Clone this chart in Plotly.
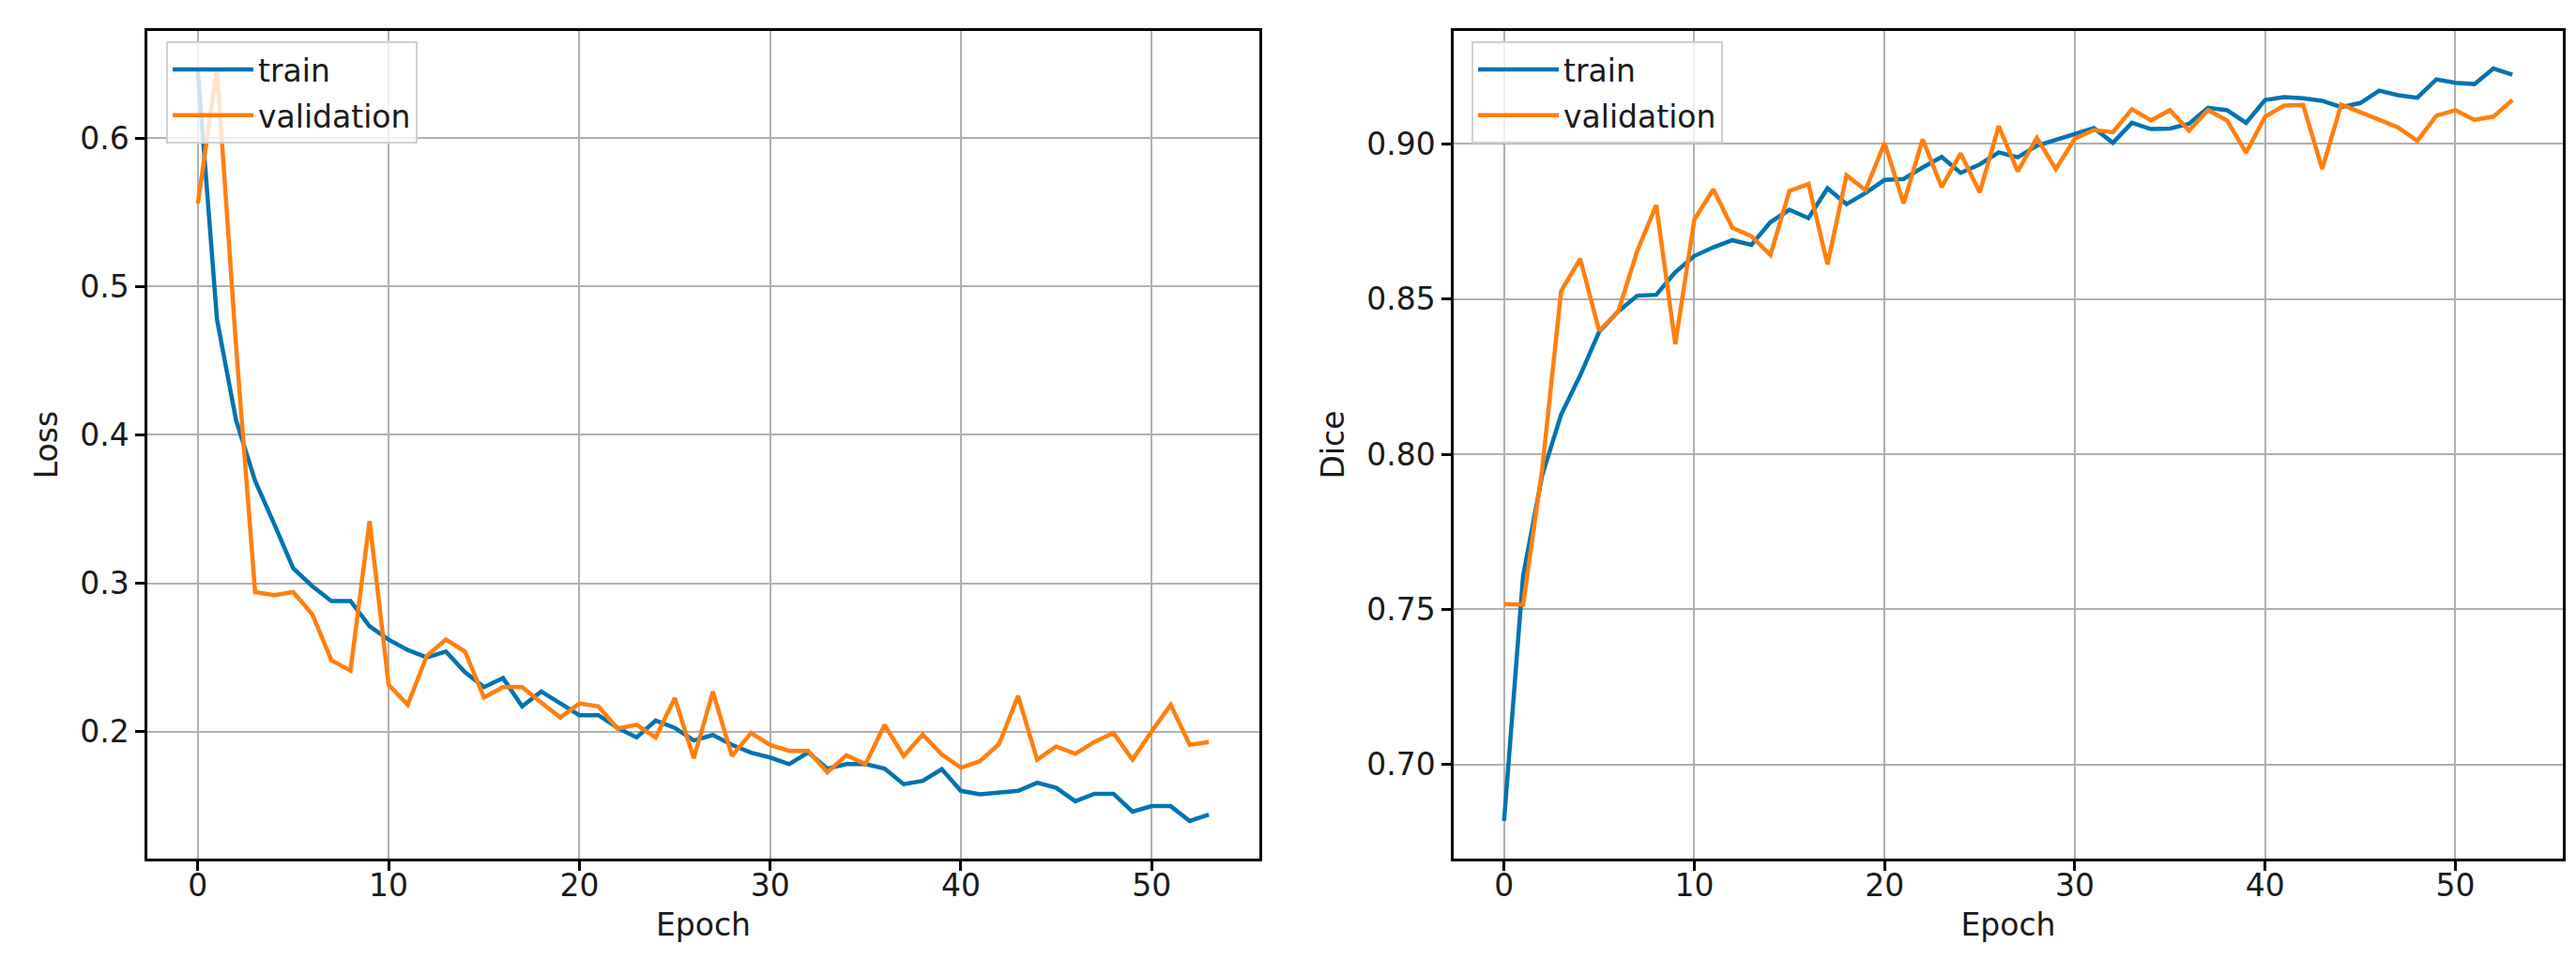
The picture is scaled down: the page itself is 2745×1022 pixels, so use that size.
import plotly.graph_objects as go

epochs = list(range(54))

train_loss = [0.645, 0.478, 0.41, 0.369, 0.340, 0.310, 0.298, 0.288, 0.288, 0.271,
              0.262, 0.255, 0.250, 0.254, 0.240, 0.230, 0.236, 0.217, 0.227, 0.219,
              0.211, 0.211, 0.2025, 0.196, 0.2074, 0.2025, 0.194, 0.1977, 0.191, 0.1857,
              0.1825, 0.178, 0.186, 0.175, 0.178, 0.178, 0.175, 0.1645, 0.1667, 0.1746,
              0.160, 0.1577, 0.1587, 0.160, 0.1655, 0.162, 0.153, 0.158, 0.158, 0.146,
              0.1497, 0.1497, 0.1397, 0.144]

val_loss = [0.556, 0.647, 0.46, 0.294, 0.292, 0.294, 0.279, 0.248, 0.241, 0.342,
            0.2315, 0.218, 0.251, 0.262, 0.254, 0.223, 0.230, 0.230, 0.2195, 0.2095,
            0.219, 0.217, 0.202, 0.2046, 0.196, 0.2226, 0.182, 0.2268, 0.1835, 0.199,
            0.191, 0.187, 0.187, 0.1725, 0.184, 0.178, 0.2045, 0.1835, 0.198, 0.1845,
            0.1757, 0.180, 0.1915, 0.224, 0.181, 0.190, 0.185, 0.193, 0.199, 0.181,
            0.200, 0.218, 0.191, 0.193]

train_dice = [0.6818, 0.7608, 0.7931, 0.8128, 0.8254, 0.8395, 0.846, 0.8511, 0.8514, 0.8587,
              0.8639, 0.8667, 0.869, 0.8675, 0.8748, 0.8788, 0.8761, 0.8857, 0.8806, 0.8842,
              0.8884, 0.8887, 0.8924, 0.8958, 0.8907, 0.8934, 0.8973, 0.8957, 0.8994, 0.9014,
              0.9032, 0.9051, 0.9004, 0.9068, 0.9048, 0.905, 0.9065, 0.9117, 0.9109, 0.9068,
              0.9142, 0.9151, 0.9147, 0.9139, 0.9119, 0.9132, 0.9172, 0.9157, 0.9149, 0.9208,
              0.9197, 0.9193, 0.9243, 0.9223]

val_dice = [0.7517, 0.7515, 0.795, 0.8526, 0.863, 0.8398, 0.846, 0.8655, 0.8803, 0.8355,
            0.8756, 0.8854, 0.873, 0.8703, 0.8642, 0.8849, 0.8871, 0.8612, 0.8899, 0.8851,
            0.9003, 0.8808, 0.9015, 0.8861, 0.897, 0.8844, 0.9058, 0.8912, 0.902, 0.8919,
            0.9017, 0.9045, 0.9038, 0.9112, 0.9076, 0.9109, 0.9043, 0.9109, 0.9076, 0.8972,
            0.9088, 0.9124, 0.9126, 0.8919, 0.9127, 0.9101, 0.9078, 0.9053, 0.901, 0.9091,
            0.9109, 0.9078, 0.9088, 0.9142]

x_ticks = [0, 10, 20, 30, 40, 50]
loss_ticks = [0.2, 0.3, 0.4, 0.5, 0.6]
dice_ticks = [0.70, 0.75, 0.80, 0.85, 0.90]

BLUE = "#0173B2"
ORANGE = "#FF7F0E"
FONT = "DejaVu Sans"
FS = 33
W, H = 2745, 1022

fig = go.Figure()
fig.add_trace(go.Scatter(x=epochs, y=train_loss, mode="lines", name="train", legendgroup="a",
                         line=dict(color=BLUE, width=4.5), xaxis="x", yaxis="y", legend="legend"))
fig.add_trace(go.Scatter(x=epochs, y=val_loss, mode="lines", name="validation", legendgroup="b",
                         line=dict(color=ORANGE, width=4.5), xaxis="x", yaxis="y", legend="legend"))
fig.add_trace(go.Scatter(x=epochs, y=train_dice, mode="lines", name="train", legendgroup="c",
                         line=dict(color=BLUE, width=4.5), xaxis="x2", yaxis="y2", legend="legend2"))
fig.add_trace(go.Scatter(x=epochs, y=val_dice, mode="lines", name="validation", legendgroup="d",
                         line=dict(color=ORANGE, width=4.5), xaxis="x2", yaxis="y2", legend="legend2"))

axis_common = dict(showline=True, mirror=True, linecolor="black", linewidth=2.5,
                   ticks="outside", ticklen=10, tickwidth=2.5, tickcolor="black",
                   showgrid=True, gridcolor="#b0b0b0", gridwidth=2, zeroline=False,
                   tickfont=dict(family=FONT, size=FS, color="#1a1a1a"))

def xr(vals):
    lo, hi = min(vals), max(vals)
    m = (hi - lo) * 0.05
    return [lo - m, hi + m]

yd_top = 1 - 25 / H
yd_bot = 1 - 907 / H

legend_common = dict(yanchor="top", xanchor="left", y=1 - 36 / H,
                     bgcolor="rgba(255,255,255,0.8)", bordercolor="#d0d0d0", borderwidth=2,
                     font=dict(family=FONT, size=FS, color="#1a1a1a"), itemwidth=86,
                     tracegroupgap=3)

fig.update_layout(
    width=W, height=H,
    margin=dict(l=0, r=0, t=0, b=0),
    plot_bgcolor="white", paper_bgcolor="white",
    font=dict(family=FONT, size=FS, color="#1a1a1a"),
    xaxis=dict(domain=[149 / W, 1334 / W], range=xr(epochs), tickvals=x_ticks,
               ticklabelstandoff=-12,
               title=dict(text="Epoch", font=dict(family=FONT, size=FS), standoff=12),
               anchor="y", **axis_common),
    yaxis=dict(domain=[yd_bot, yd_top], range=xr(train_loss + val_loss), tickvals=loss_ticks,
               tickformat=".1f",
               title=dict(text="Loss", font=dict(family=FONT, size=FS), standoff=14),
               anchor="x", **axis_common),
    xaxis2=dict(domain=[1541 / W, 2723 / W], range=xr(epochs), tickvals=x_ticks,
                ticklabelstandoff=-12,
                title=dict(text="Epoch", font=dict(family=FONT, size=FS), standoff=12),
                anchor="y2", **axis_common),
    yaxis2=dict(domain=[yd_bot, yd_top], range=xr(train_dice + val_dice), tickvals=dice_ticks,
                tickformat=".2f",
                title=dict(text="Dice", font=dict(family=FONT, size=FS), standoff=14),
                anchor="x2", **axis_common),
    legend=dict(x=169 / W, **legend_common),
    legend2=dict(x=1560 / W, **legend_common),
)

fig.write_html("out.html")
